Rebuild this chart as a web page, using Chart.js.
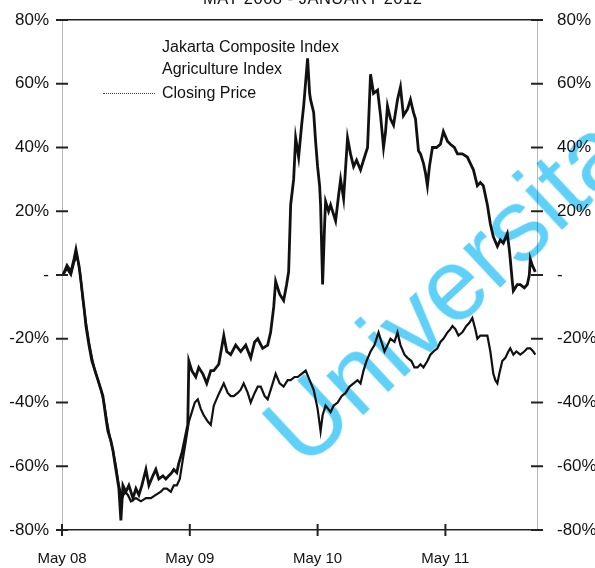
<!DOCTYPE html>
<html>
<head>
<meta charset="utf-8">
<script src="https://cdn.jsdelivr.net/npm/chart.js@4.4.1/dist/chart.umd.min.js"></script>
<style>
  html, body { margin: 0; padding: 0; background: #fff; }
  body { width: 595px; height: 568px; position: relative; overflow: hidden; font-family: 'Liberation Sans', Arial, sans-serif; color: #111; }
  #wrap { position: absolute; left: 0; top: 0; width: 595px; height: 568px; }
  .title { position: absolute; top: -11px; left: 203px; font-size: 16.5px; letter-spacing: 0.5px; white-space: nowrap; }
  .legend { position: absolute; left: 162px; font-size: 16px; white-space: nowrap; line-height: 18px; }
  .sample { position: absolute; left: 103px; top: 93px; width: 52px; border-top: 1px dotted #444; }
  .mark { position: absolute; left: 315px; top: 380px; font-size: 102px; color: #5fd0f7; white-space: nowrap;
          transform-origin: 0 100%; transform: rotate(-43deg); mix-blend-mode: multiply; line-height: 1; }
</style>
</head>
<body>
<div id="wrap"><canvas id="chart" width="595" height="568"></canvas></div>
<div class="title">MAY 2008 - JANUARY 2012</div>
<div class="legend" style="top:38px">Jakarta Composite Index</div>
<div class="legend" style="top:60px">Agriculture Index</div>
<div class="legend" style="top:84px">Closing Price</div>
<div class="sample"></div>
<div class="mark">Universitas</div>
<script>
// 月份刻度 (自 2008 年 5 月起的月數)
const monthTicks = [0, 12, 24, 36];
const monthLabels = ['May 08', 'May 09', 'May 10', 'May 11'];
const percentTicks = [80, 60, 40, 20, 0, -20, -40, -60, -80];

// Agriculture Index (%)
const agriMonths = [0.09, 0.47, 0.84, 1.13, 1.31, 1.59, 1.78, 2.06, 2.25, 2.53, 2.81, 3.00, 3.38, 3.66, 3.84, 4.13, 4.31, 4.59, 4.78, 5.06,
  5.34, 5.53, 5.72, 6.00, 6.28, 6.66, 6.94, 7.22, 7.50, 7.88, 8.16, 8.53, 8.81, 9.09, 9.47, 9.75, 10.03, 10.31, 10.50, 10.78,
  10.97, 11.25, 11.44, 11.81, 11.91, 12.19, 12.56, 12.84, 13.22, 13.59, 13.97, 14.25, 14.72, 15.19, 15.47, 15.84, 16.31, 16.78, 17.25, 17.72,
  18.09, 18.38, 18.84, 19.31, 19.59, 19.88, 20.06, 20.44, 20.81, 21.09, 21.28, 21.47, 21.75, 21.94, 22.22, 22.50, 22.69, 23.06, 23.25, 23.34,
  23.63, 23.81, 24.00, 24.19, 24.28, 24.47, 24.66, 24.75, 25.03, 25.22, 25.50, 25.69, 25.97, 26.16, 26.44, 26.81, 27.09, 27.38, 27.66, 28.03,
  28.31, 28.69, 28.97, 29.25, 29.63, 29.91, 30.19, 30.38, 30.56, 30.84, 31.13, 31.50, 31.78, 32.06, 32.44, 32.72, 33.00, 33.19, 33.47, 33.66,
  33.94, 34.13, 34.31, 34.50, 34.78, 35.16, 35.53, 35.81, 36.19, 36.47, 36.84, 37.13, 37.59, 38.06, 38.34, 38.63, 39.00, 39.28, 39.56, 39.94,
  40.22, 40.50, 40.88, 41.16, 41.44, 41.81, 42.00, 42.09, 42.28, 42.38, 42.75, 43.03, 43.41, 43.69, 43.88, 43.97, 44.16, 44.44];
const agriValues = [0, 3, 1, 5, 8, 3, -2, -10, -16, -22, -27, -29, -33, -36, -38, -45, -49, -52, -55, -61,
  -67, -77, -66, -68, -66, -70, -67, -69, -66, -61, -66, -63, -61, -64, -63, -64, -63, -62, -61, -62,
  -59, -56, -53, -47, -27, -30, -32, -29, -31, -34, -30, -30, -28, -19, -24, -25, -22, -24, -22, -26,
  -21, -20, -23, -22, -18, -10, -2, -6, -8, -3, 1, 22, 30, 43, 37, 47, 53, 68, 57, 55,
  51, 42, 34, 28, 22, -3, 16, 23, 20, 22, 19, 17, 25, 30, 24, 43, 38, 34, 36, 33,
  36, 40, 63, 57, 58, 50, 40, 45, 53, 49, 47, 55, 59, 50, 52, 55, 51, 49, 39, 38,
  35, 32, 28, 34, 40, 40, 41, 45, 42, 41, 40, 38, 38, 37, 35, 33, 28, 29, 28, 22,
  16, 12, 9, 11, 10, 13, 8, 5, -2, -5, -3, -3, -4, -3, 0, 5, 3, 1];

// Jakarta Composite Index (%)
const jciMonths = [0.09, 0.47, 0.84, 1.13, 1.41, 1.69, 1.97, 2.25, 2.53, 2.81, 3.09, 3.38, 3.66, 3.94, 4.22, 4.50, 4.78, 5.06, 5.34, 5.63,
  5.91, 6.19, 6.47, 6.94, 7.41, 7.88, 8.34, 8.81, 9.28, 9.56, 9.84, 10.22, 10.50, 10.78, 11.06, 11.34, 11.63, 11.91, 12.19, 12.47,
  12.75, 13.03, 13.31, 13.69, 13.97, 14.25, 14.63, 14.91, 15.19, 15.56, 15.84, 16.13, 16.50, 16.78, 17.06, 17.44, 17.72, 18.09, 18.38, 18.66,
  19.03, 19.31, 19.69, 20.06, 20.44, 20.81, 21.19, 21.47, 21.84, 22.13, 22.50, 22.88, 23.25, 23.63, 24.00, 24.28, 24.47, 24.75, 25.22, 25.50,
  25.88, 26.25, 26.63, 27.00, 27.38, 27.75, 28.03, 28.31, 28.59, 28.97, 29.34, 29.72, 30.00, 30.28, 30.56, 30.84, 31.22, 31.50, 31.78, 32.16,
  32.44, 32.81, 33.09, 33.38, 33.66, 33.94, 34.31, 34.59, 34.88, 35.25, 35.53, 35.81, 36.19, 36.47, 36.66, 36.94, 37.22, 37.59, 37.97, 38.25,
  38.53, 38.81, 39.00, 39.28, 39.66, 39.94, 40.22, 40.50, 40.69, 40.88, 41.06, 41.34, 41.63, 41.91, 42.09, 42.38, 42.66, 43.03, 43.41, 43.69,
  43.97, 44.25, 44.44];
const jciValues = [0, 2, 0, 4, 6, 1, -8, -15, -21, -26, -30, -33, -36, -40, -46, -51, -55, -60, -66, -70,
  -68, -69, -71, -70, -71, -70, -70, -69, -68, -67, -67, -68, -66, -66, -64, -58, -52, -46, -43, -40,
  -39, -42, -44, -46, -47, -41, -38, -36, -34, -37, -38, -38, -37, -36, -34, -37, -40, -37, -35, -35,
  -38, -39, -35, -31, -34, -35, -33, -33, -32, -32, -31, -30, -33, -36, -42, -49, -44, -41, -43, -41,
  -40, -38, -37, -35, -34, -33, -34, -30, -27, -24, -22, -18, -21, -24, -22, -20, -21, -18, -22, -25,
  -26, -27, -29, -29, -28, -29, -27, -25, -24, -23, -21, -20, -18, -17, -16, -17, -19, -18, -16, -15,
  -13.5, -17, -20, -19, -19, -19, -24, -31, -33, -34, -31, -27, -26, -24, -23, -25, -24, -25, -24, -23,
  -23, -24, -25];

const toPoints = (xs, ys) => xs.map((x, i) => ({ x: x, y: ys[i] }));
const fontY = { family: "'Liberation Sans', Arial, sans-serif", size: 17 };
const fontX = { family: "'Liberation Sans', Arial, sans-serif", size: 15 };
const pctLabel = (v) => (v === 0 ? '-' : v + '%');

// 刻度短線，跨在軸線兩側
const crossTicks = {
  id: 'crossTicks',
  afterDraw(chart) {
    const ctx = chart.ctx;
    const area = chart.chartArea;
    ctx.save();
    ctx.strokeStyle = '#222';
    ctx.lineWidth = 2;
    ['y', 'y2'].forEach((id) => {
      const s = chart.scales[id];
      const ax = id === 'y' ? area.left : area.right;
      s.ticks.forEach((t) => {
        const py = s.getPixelForValue(t.value);
        ctx.beginPath();
        ctx.moveTo(ax - 6, py);
        ctx.lineTo(ax + 6, py);
        ctx.stroke();
      });
    });
    const sx = chart.scales.x;
    sx.ticks.forEach((t) => {
      const px = sx.getPixelForValue(t.value);
      ctx.beginPath();
      ctx.moveTo(px, area.bottom - 6);
      ctx.lineTo(px, area.bottom + 6);
      ctx.stroke();
    });
    ctx.restore();
  }
};

// 固定軸寬，去掉標籤溢出留白
const fitY = (w) => (s) => { s.width = w; s.paddingTop = 0; s.paddingBottom = 0; };
const fitX = (h) => (s) => { s.height = h; s.paddingLeft = 0; s.paddingRight = 0; };

new Chart(document.getElementById('chart'), {
  type: 'line',
  data: {
    datasets: [{
      label: 'Jakarta Composite Index',
      data: toPoints(jciMonths, jciValues),
      borderColor: '#111',
      borderWidth: 2.2,
      pointRadius: 0,
      tension: 0
    }, {
      label: 'Agriculture Index',
      data: toPoints(agriMonths, agriValues),
      borderColor: '#111',
      borderWidth: 2.8,
      pointRadius: 0,
      tension: 0
    }]
  },
  plugins: [crossTicks],
  options: {
    responsive: false,
    animation: false,
    layout: { padding: 0 },
    plugins: { legend: { display: false }, tooltip: { enabled: false } },
    scales: {
      x: {
        type: 'linear',
        position: 'bottom',
        min: 0,
        max: 44.6,
        afterFit: fitX(38),
        afterBuildTicks: (s) => { s.ticks = monthTicks.map(v => ({ value: v })); },
        border: { display: true, color: '#222', width: 1.5 },
        grid: { drawOnChartArea: false, drawTicks: false },
        ticks: {
          color: '#111', font: fontX, padding: 20, maxRotation: 0,
          callback: (v) => monthLabels[monthTicks.indexOf(v)]
        }
      },
      top: {
        type: 'linear',
        position: 'top',
        min: 0,
        max: 44.6,
        afterFit: fitX(20),
        border: { display: true, color: '#222', width: 1.5 },
        grid: { display: false },
        ticks: { display: false }
      },
      y: {
        position: 'left',
        min: -80,
        max: 80,
        afterFit: fitY(62),
        afterBuildTicks: (s) => { s.ticks = percentTicks.map(v => ({ value: v })); },
        border: { display: true, color: '#bbb', width: 1, dash: [1, 3] },
        grid: { drawOnChartArea: false, drawTicks: false },
        ticks: { color: '#111', font: fontY, padding: 13, callback: pctLabel }
      },
      y2: {
        position: 'right',
        min: -80,
        max: 80,
        afterFit: fitY(58),
        afterBuildTicks: (s) => { s.ticks = percentTicks.map(v => ({ value: v })); },
        border: { display: true, color: '#bbb', width: 1, dash: [1, 3] },
        grid: { drawOnChartArea: false, drawTicks: false },
        ticks: { color: '#111', font: fontY, padding: 20, callback: pctLabel }
      }
    }
  }
});
</script>
</body>
</html>
